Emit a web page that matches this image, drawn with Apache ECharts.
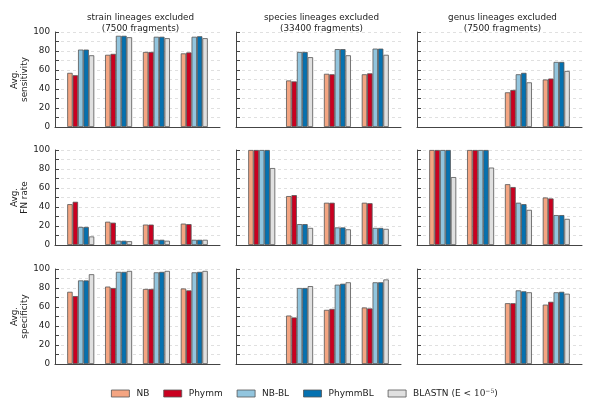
<!DOCTYPE html>
<html><head><meta charset="utf-8">
<script src="https://cdn.jsdelivr.net/npm/echarts@6/dist/echarts.min.js"></script>
<style>html,body{margin:0;padding:0;background:#fff}#c{width:600px;height:404px}</style>
</head><body><div id="c"></div>
<script>
const categories = ['S', 'G', 'C', 'P'];
const methods = ['NB', 'Phymm', 'NB-BL', 'PhymmBL', 'BLASTN'];
const colors = ['#f4a582', '#ca0020', '#92c5de', '#0571b0', '#e0e0e0'];
const columnTitles = ['strain lineages excluded\n(7500 fragments)', 'species lineages excluded\n(33400 fragments)', 'genus lineages excluded\n(7500 fragments)'];
const rowNames = ['Avg.\nsensitivity', 'Avg.\nFN rate', 'Avg.\nspecificity'];
const yTicks = [0, 20, 40, 60, 80, 100];

// rows: methods (NB, Phymm, NB-BL, PhymmBL, BLASTN); columns: S, G, C, P
const sensitivityStrain = [[57, 76, 79, 77.5], [54.5, 77, 79, 78.5], [81.5, 96, 95, 95], [81.5, 96, 95, 95.5], [75.5, 94.5, 93.5, 93.5]];
const sensitivitySpecies = [[null, 49, 56, 55.5], [null, 48, 55.5, 56.5], [null, 79, 82, 82.5], [null, 79, 82, 82.5], [null, 73.5, 75.5, 76]];
const sensitivityGenus = [[null, null, 36.5, 50], [null, null, 39, 51], [null, null, 55.5, 68.5], [null, null, 57, 68.5], [null, null, 47, 59]];
const fnStrain = [[43, 24.5, 21.5, 22.5], [45.5, 23.5, 21.5, 22], [19, 4.5, 5.5, 5.5], [19, 4.5, 5.5, 5.5], [9, 4, 4.5, 5.5]];
const fnSpecies = [[100, 51.5, 44.5, 44.5], [100, 52.5, 44.5, 44], [100, 22, 18.5, 18], [100, 22, 18.5, 18], [81, 18, 16.5, 17]];
const fnGenus = [[100, 100, 64, 50], [100, 100, 61, 49], [100, 100, 44.5, 31.5], [100, 100, 43, 31.5], [71.5, 81.5, 37, 27.5]];
const specStrain = [[76, 81.5, 79, 79.5], [71.5, 80, 79, 77.5], [88, 97, 96.5, 96.5], [88, 97, 97, 97], [94.5, 98, 98, 98]];
const specSpecies = [[null, 51, 57, 59.5], [null, 49, 58, 58.5], [null, 80, 83.5, 86], [null, 80, 84.5, 86], [null, 82, 86, 89]];
const specGenus = [[null, null, 64, 62.5], [null, null, 64, 65.5], [null, null, 77.5, 75.5], [null, null, 76.5, 76], [null, null, 75.5, 74]];

const panels = [
  [sensitivityStrain, sensitivitySpecies, sensitivityGenus],
  [fnStrain, fnSpecies, fnGenus],
  [specStrain, specSpecies, specGenus]
];

const colLeft = [55, 236, 417];
const colWidth = 165;
const rowTop = [32, 150, 269];
const rowHeight = 95;
const FONT = 'DejaVu Sans';
const axisColor = '#444';

const grids = [], xAxes = [], yAxes = [], series = [], titles = [];
columnTitles.forEach((t, c) => {
  titles.push({
    text: t, left: colLeft[c] + colWidth / 2 - 2, top: 7, textAlign: 'center',
    textStyle: { fontFamily: FONT, fontSize: 8.8, fontWeight: 'normal', color: '#222', lineHeight: 11 }
  });
});
for (let r = 0; r < 3; r++) {
  for (let c = 0; c < 3; c++) {
    const idx = grids.length;
    grids.push({ left: colLeft[c], top: rowTop[r], width: colWidth, height: rowHeight, containLabel: false });
    xAxes.push({
      gridIndex: idx, type: 'value', min: -0.68, max: 3.68, interval: 1,
      axisLine: { show: true, onZero: false, lineStyle: { color: axisColor, width: 1 } },
      axisTick: { show: false }, splitLine: { show: false },
      axisLabel: {
        fontFamily: FONT, fontSize: 8.8, color: '#222', margin: 5,
        formatter: v => (Math.abs(v - Math.round(v)) < 1e-6 && categories[Math.round(v)]) ? categories[Math.round(v)] : ''
      }
    });
    yAxes.push({
      gridIndex: idx, type: 'value', min: 0, max: 100, interval: 10,
      name: c === 0 ? rowNames[r] : '', nameLocation: 'middle', nameGap: 23, nameRotate: 90,
      nameTextStyle: { fontFamily: FONT, fontSize: 8.8, color: '#222', lineHeight: 10 },
      axisLine: { show: true, onZero: false, lineStyle: { color: axisColor, width: 1 } },
      axisTick: { show: true, inside: true, length: 4, lineStyle: { color: axisColor } },
      splitLine: { show: true, lineStyle: { color: '#d8d8d8', type: [3, 3], width: 0.8 } },
      axisLabel: {
        show: c === 0, fontFamily: FONT, fontSize: 8.8, color: '#222', margin: 5,
        formatter: v => yTicks.includes(v) ? String(v) : ''
      }
    });
    const mat = panels[r][c];
    methods.forEach((m, k) => {
      const data = [];
      mat[k].forEach((v, i) => { if (v !== null) data.push([i, v]); });
      series.push({
        name: m, type: 'bar', xAxisIndex: idx, yAxisIndex: idx,
        barWidth: 5.4, barGap: '0%', data,
        itemStyle: { color: colors[k], borderColor: '#555', borderWidth: 0.8 },
        animation: false
      });
    });
  }
}

const chart = echarts.init(document.getElementById('c'), null, { renderer: 'canvas' });
chart.setOption({
  animation: false,
  title: titles,
  grid: grids, xAxis: xAxes, yAxis: yAxes, series,
  legend: {
    data: methods.map(m => ({ name: m, icon: 'rect' })), left: 106, top: 383, itemWidth: 18, itemHeight: 7, itemGap: 14,
    selectedMode: false,
    itemStyle: { borderColor: '#555', borderWidth: 0.8 },
    textStyle: {
      fontFamily: FONT, fontSize: 9, color: '#222', padding: [0, 0, 0, 2],
      rich: {
        t: { fontFamily: FONT, fontSize: 9, color: '#222' },
        n: { fontFamily: 'DejaVu Serif', fontSize: 9, color: '#222' },
        s: { fontFamily: 'DejaVu Serif', fontSize: 6, color: '#222', verticalAlign: 'top', padding: [0, 0, 5, 0] }
      }
    },
    formatter: n => n === 'BLASTN' ? '{t|BLASTN (E < }{n|10}{s|−5}{t|)}' : n
  },
  series
});
</script>
</body></html>
